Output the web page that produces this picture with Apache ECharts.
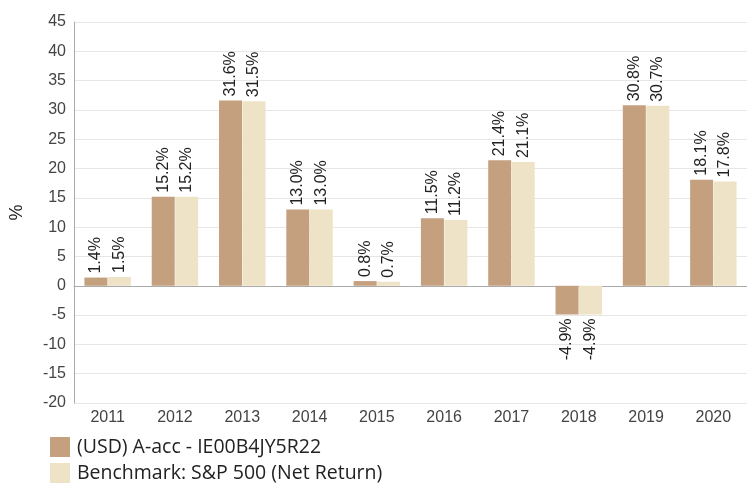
<!DOCTYPE html>
<html>
<head>
<meta charset="utf-8">
<script src="https://cdn.jsdelivr.net/npm/echarts@6/dist/echarts.min.js"></script>
<style>
  html, body { margin: 0; padding: 0; background: #fff; }
  #chart { width: 747px; height: 485px; }
</style>
</head>
<body>
<div id="chart"></div>
<script>
// Calendar-year returns (%)
const years = ['2011', '2012', '2013', '2014', '2015', '2016', '2017', '2018', '2019', '2020'];
const fundReturns = [1.4, 15.2, 31.6, 13.0, 0.8, 11.5, 21.4, -4.9, 30.8, 18.1];
const benchmarkReturns = [1.5, 15.2, 31.5, 13.0, 0.7, 11.2, 21.1, -4.9, 30.7, 17.8];
const fundName = '(USD) A-acc - IE00B4JY5R22';
const benchmarkName = 'Benchmark: S&P 500 (Net Return)';

const chart = echarts.init(document.getElementById('chart'), null, { renderer: 'canvas' });

const labelFont = { fontFamily: 'Liberation Sans, Arial, sans-serif', fontSize: 16, color: '#222' };

// Rotated value labels: above positive bars, below negative ones
function withLabels(values) {
  return values.map(v => ({
    value: v,
    label: Object.assign({
      show: true,
      rotate: 90,
      position: v >= 0 ? 'top' : 'bottom',
      align: v >= 0 ? 'left' : 'right',
      verticalAlign: 'middle',
      distance: 4,
      formatter: p => p.value.toFixed(1) + '%'
    }, labelFont)
  }));
}

chart.setOption({
  animation: false,
  grid: { left: 71, right: -4, top: 22, bottom: 82, containLabel: false },
  legend: {
    orient: 'vertical',
    left: 50,
    top: 437,
    padding: 0,
    itemWidth: 20,
    itemHeight: 20,
    itemGap: 6,
    icon: 'rect',
    textStyle: { fontFamily: 'Open Sans, Noto Sans, sans-serif', fontSize: 19.5, color: '#222', padding: [0, 0, 0, 2] },
    data: [fundName, benchmarkName]
  },
  xAxis: {
    type: 'category',
    data: years,
    axisLine: { lineStyle: { color: '#aaa' } },
    axisTick: { show: false },
    axisLabel: { fontFamily: 'Liberation Sans, Arial, sans-serif', fontSize: 16, color: '#444', margin: 7 }
  },
  yAxis: {
    type: 'value',
    min: -20,
    max: 45,
    interval: 5,
    name: '%',
    nameLocation: 'middle',
    nameRotate: 90,
    nameGap: 48,
    nameTextStyle: { fontFamily: 'Liberation Sans, Arial, sans-serif', fontSize: 18, color: '#222' },
    axisLine: { show: true, lineStyle: { color: '#aaa' } },
    axisTick: { show: false },
    splitLine: { lineStyle: { color: '#e6e6e6' } },
    axisLabel: { fontFamily: 'Liberation Sans, Arial, sans-serif', fontSize: 16, color: '#444', margin: 8 }
  },
  series: [
    {
      name: fundName,
      type: 'bar',
      data: withLabels(fundReturns),
      barWidth: 23,
      barGap: '2%',
      itemStyle: { color: '#c4a07f' }
    },
    {
      name: benchmarkName,
      type: 'bar',
      data: withLabels(benchmarkReturns),
      barWidth: 23,
      itemStyle: { color: '#eee3c7' }
    }
  ]
});
</script>
</body>
</html>
